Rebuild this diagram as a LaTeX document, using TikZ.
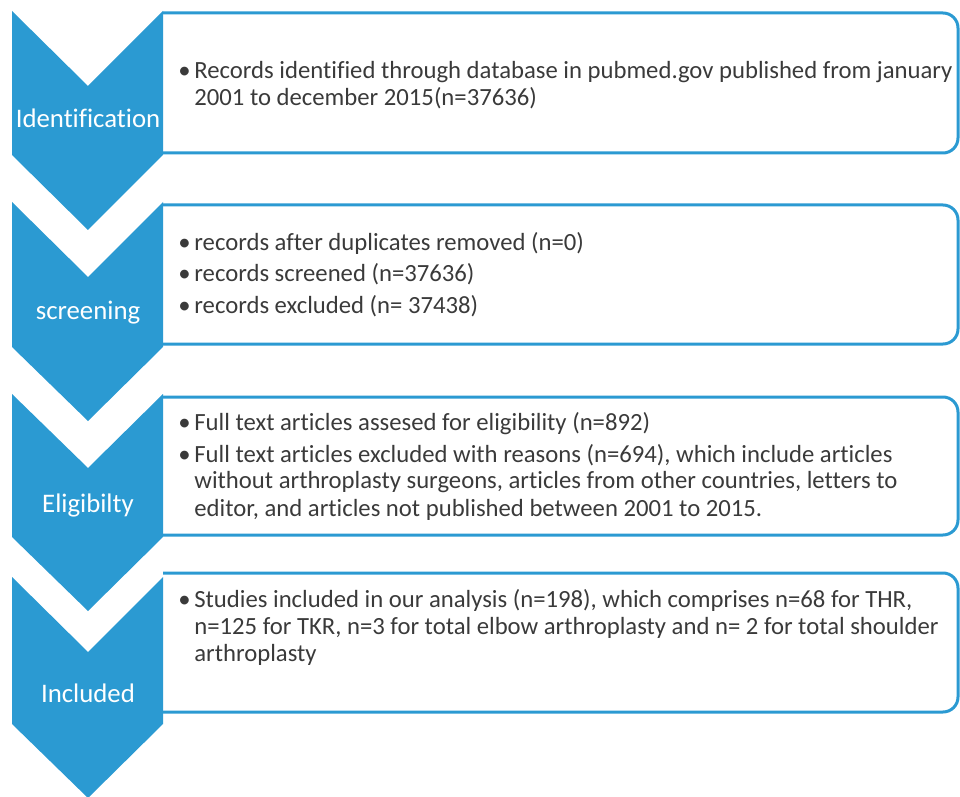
\documentclass[tikz,border=0pt]{standalone}
\usepackage{fontspec}
\setmainfont{Carlito}[Ligatures=NoCommon]
\usetikzlibrary{positioning}
\definecolor{stageblue}{HTML}{2B9AD2}
\definecolor{textgray}{HTML}{3A3A3A}
\newcommand{\bul}{\makebox[8pt][l]{\textbullet}}
\newcommand{\ind}{\hspace*{8pt}}

\begin{document}
\begin{tikzpicture}[x=0.5pt, y=-0.5pt]
\tikzstyle{chevron}=[fill=stageblue, draw=none]
\tikzstyle{box}=[draw=stageblue, line width=1.5pt, rounded corners=7.5pt]
\tikzstyle{stage}=[anchor=base, inner sep=0pt, text=white, font=\fontsize{13.4}{16}\selectfont]
% base west of a text block sits on its last line
\tikzstyle{info}=[anchor=base west, align=left, inner sep=0pt, text=textgray, font=\fontsize{12.35}{13.5}\selectfont]
    \useasboundingbox (0,0) rectangle (960,797);
    % boxes on the right
    \draw[box] (163,13) -- (958,13) -- (958,153) -- (163,153);
    \draw[box] (163,205) -- (958,205) -- (958,344) -- (163,344);
    \draw[box] (163,397) -- (958,397) -- (958,535) -- (163,535);
    \draw[box] (163,573) -- (958,573) -- (958,712) -- (163,712);
    % chevrons
    \fill[chevron] (12,11) -- (88,86) -- (163,11) -- (163,155) -- (88,230) -- (12,155) -- cycle;
    \fill[chevron] (12,202) -- (88,277) -- (163,202) -- (163,347) -- (88,421) -- (12,347) -- cycle;
    \fill[chevron] (12,394) -- (88,468) -- (163,394) -- (163,537) -- (88,611) -- (12,537) -- cycle;
    \fill[chevron] (12,577) -- (88,652) -- (163,577) -- (163,724) -- (88,798) -- (12,724) -- cycle;
    % stage names
    \node[stage] (ident) at (88,128) {Identification};
    \node[stage] (screen) at (88,320) {screening};
    \node[stage] (elig) at (88,512) {Eligibilty};
    \node[stage] (incl) at (88,702) {Included};
    % box texts
    \node[info] (identtext) at (178,106) {\bul Records identified through database in pubmed.gov published from january\\
        \ind 2001 to december 2015(n=37636)};
    \node[info] (screentext) at (178,314) {\bul records after duplicates removed (n=0)\\[2.5pt]
        \bul records screened (n=37636)\\[2.5pt]
        \bul records excluded (n= 37438)};
    \node[info] (eligtext) at (178,516) {\bul Full text articles assesed for eligibility (n=892)\\[2.5pt]
        \bul Full text articles excluded with reasons (n=694), which include articles\\
        \ind without arthroplasty surgeons, articles from other countries, letters to\\
        \ind editor, and articles not published between 2001 to 2015.};
    \node[info] (incltext) at (178,661) {\bul Studies included in our analysis (n=198), which comprises n=68 for THR,\\
        \ind n=125 for TKR, n=3 for total elbow arthroplasty and n= 2 for total shoulder\\
        \ind arthroplasty};
\end{tikzpicture}
\end{document}
